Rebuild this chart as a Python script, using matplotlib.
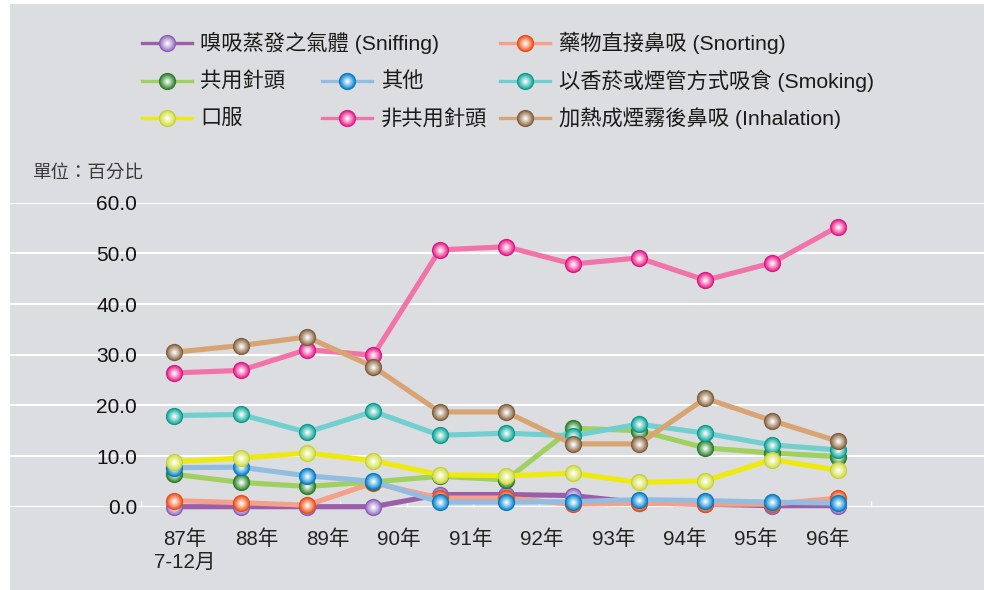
import matplotlib
matplotlib.use("Agg")
import matplotlib.pyplot as plt
import matplotlib.colors as mcolors
from matplotlib.patches import Rectangle
import numpy as np

plt.rcParams['font.family'] = ['Liberation Sans', 'Noto Sans CJK TC']

# ---- data (percent) ----
year_labels = ['87年\n7-12月', '88年', '89年', '90年', '91年',
               '92年', '93年', '94年', '95年', '96年']
n_points = 11

sniffing    = [0.0, 0.0, 0.0, 0.0, 2.4, 2.4, 2.2, 0.8, 0.5, 0.2, 0.2]
snorting    = [1.2, 0.8, 0.3, 4.7, 1.7, 1.7, 0.5, 0.7, 0.5, 0.5, 1.7]
shared      = [6.4, 4.8, 4.0, 4.9, 6.0, 5.3, 15.5, 15.0, 11.6, 10.6, 9.9]
other       = [7.7, 7.8, 6.1, 5.0, 0.9, 0.9, 1.0, 1.4, 1.2, 0.9, 0.7]
smoking     = [18.0, 18.2, 14.7, 18.8, 14.1, 14.5, 14.0, 16.3, 14.5, 12.2, 11.2]
oral        = [8.9, 9.6, 10.6, 9.1, 6.3, 6.1, 6.6, 4.8, 5.1, 9.3, 7.2]
non_shared  = [26.4, 26.9, 31.0, 29.9, 50.7, 51.3, 47.9, 49.1, 44.7, 48.1, 55.3]
inhalation  = [30.5, 31.8, 33.5, 27.6, 18.7, 18.7, 12.4, 12.4, 21.4, 17.0, 12.9]

y_ticks = [0, 10, 20, 30, 40, 50, 60]

# name, values, line colour, ball colour, ball edge, legend row, legend column
series = [
    ('嗅吸蒸發之氣體 (Sniffing)', sniffing, '#9b5ea9', '#a07cc8', '#8a5cb5', 0, 0),
    ('藥物直接鼻吸 (Snorting)', snorting, '#f5a08b', '#f2602a', '#e44f1a', 0, 2),
    ('共用針頭', shared, '#9fd060', '#3d8f3d', '#2e7a30', 1, 0),
    ('其他', other, '#93bde0', '#1a8fd4', '#0b78bd', 1, 1),
    ('以香菸或煙管方式吸食 (Smoking)', smoking, '#72cfd0', '#22b0a4', '#11978c', 1, 2),
    ('口服', oral, '#eeea0d', '#d6e24e', '#c5d040', 2, 0),
    ('非共用針頭', non_shared, '#f173a9', '#ec2f93', '#dc1881', 2, 1),
    ('加熱成煙霧後鼻吸 (Inhalation)', inhalation, '#d9a473', '#957553', '#7c603f', 2, 2),
]

BG = '#dcdde0'
W, H = 984, 590
fig = plt.figure(figsize=(W / 100, H / 100), dpi=100, facecolor='white')

# pixel-space overlay for the background panel and the legend
ov = fig.add_axes([0, 0, 1, 1], zorder=0)
ov.set_xlim(0, W)
ov.set_ylim(H, 0)
ov.axis('off')
ov.add_patch(Rectangle((10, 4), W - 10, H - 4, facecolor=BG, edgecolor='none'))


def sphere(a, x, y, base, edge, size, z):
    """Draw shaded ball markers: solid rim fading to a white highlight."""
    a.plot(x, y, ls='none', marker='o', ms=size, mfc=base, mec=edge,
           mew=0.9, zorder=z, clip_on=False)
    rgb = np.array(mcolors.to_rgb(base))
    steps = 9
    for i in range(1, steps + 1):
        t = i / steps
        c = rgb * (1 - t * 0.92) + np.ones(3) * t * 0.92
        a.plot(x, y, ls='none', marker='o', ms=size * (1 - 0.8 * t) - 0.6,
               mfc=c, mec='none', zorder=z + 0.01 * i, clip_on=False)


# main chart axes: spans the full grey panel width
bottom_px, top_px = 506.7, 202.7
ax = fig.add_axes([10 / W, (H - bottom_px) / H, (W - 10) / W,
                   (bottom_px - top_px) / H], zorder=1)
ax.patch.set_visible(False)
ax.set_ylim(0, 60)
ax.set_xlim(-2.473, 12.196)
for s in ax.spines.values():
    s.set_visible(False)

ax.set_yticks(y_ticks)
ax.set_yticklabels([f'{v:.1f}' for v in y_ticks])
ax.tick_params(axis='y', length=0, pad=-91.5, labelsize=15, labelcolor='#111111')
for lbl in ax.get_yticklabels():
    lbl.set_horizontalalignment('right')
ax.yaxis.grid(True, color='white', lw=1.5, zorder=0.5)
ax.set_axisbelow(True)

# small white separators between periods along the baseline
ax.set_xticks([])
ax.set_xticks(np.arange(-0.5, n_points, 1.0), minor=True)
ax.tick_params(axis='x', which='minor', direction='in', length=4, width=1,
               color='white', labelbottom=False)

xs = np.arange(n_points)
for k, (name, vals, lc, bc, ec, r, c) in enumerate(series):
    z = 2 + k
    ax.plot(xs, vals, color=lc, lw=3.7, solid_capstyle='round', zorder=z, clip_on=False)
    sphere(ax, xs, vals, bc, ec, 11.5, z + 0.1)

# period labels on their own category scale
ax2 = ax.twiny()
ax2.set_xlim(-2.451, 11.19)
ax2.set_xticks(range(len(year_labels)))
ax2.set_xticklabels(year_labels, fontsize=14.8, color='#222222', linespacing=1.3)
ax2.xaxis.set_ticks_position('bottom')
ax2.xaxis.set_label_position('bottom')
ax2.tick_params(axis='x', length=0, pad=16)
for s in ax2.spines.values():
    s.set_visible(False)

# unit note
ov.text(33, 173, '單位：百分比', fontsize=13.3, color='#3a3a3a', va='center', ha='left')

# legend, three columns
col_marker = [166.7, 346.7, 525.0]
col_text = [200.0, 381.0, 559.0]
row_y = [42.7, 81.0, 118.3]
for k, (name, vals, lc, bc, ec, r, c) in enumerate(series):
    mx, my = col_marker[c], row_y[r]
    ov.plot([mx - 25, mx + 25], [my, my], color=lc, lw=2.4, zorder=5)
    sphere(ov, [mx], [my], bc, ec, 11.5, 6)
    ov.text(col_text[c], my, name, fontsize=15.3, color='#1a1a1a',
            va='center', ha='left', zorder=7)

fig.savefig('out.png', dpi=100, facecolor='white')
